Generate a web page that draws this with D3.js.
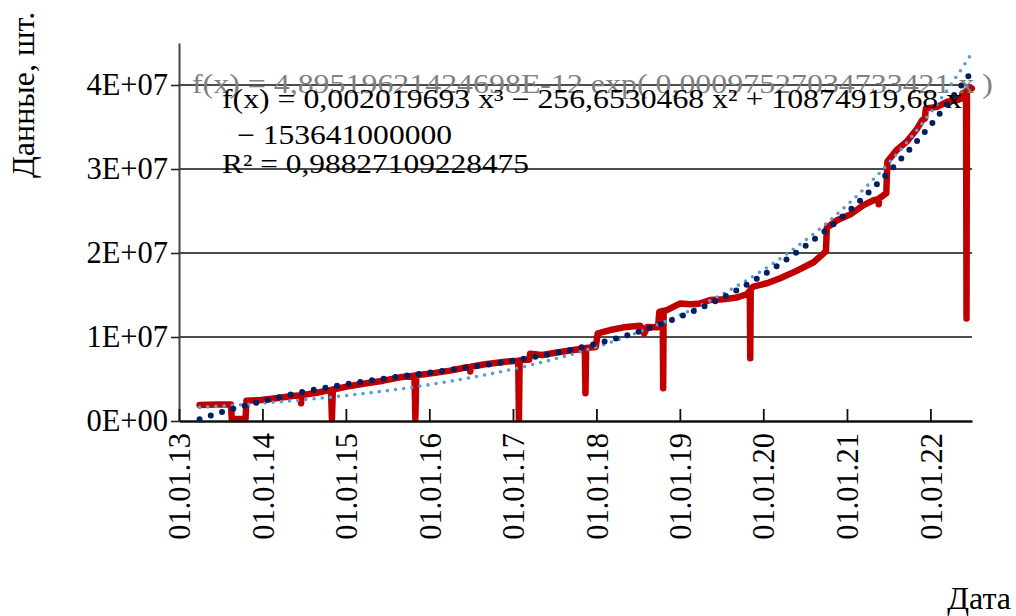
<!DOCTYPE html><meta charset="utf-8">
<html>
<head>
    <title>Данные по датам</title>
    <script src="https://cdn.jsdelivr.net/npm/d3@7"></script>
    <style>
        body { margin: 0; background: #fff; }
        text { font-family: "Liberation Serif", "Times New Roman", serif; }
    </style>
</head>
<body>
<svg id="viz"></svg>
<script>
    // series (dates as yyyy-mm-dd, values in pieces)
    var dataDates = [
        "2013-04-01", "2013-06-15", "2013-08-16", "2013-08-20", "2013-10-19", "2013-10-23", "2013-12-26",
        "2014-03-10", "2014-05-22", "2014-06-17", "2014-06-19", "2014-06-21", "2014-08-27", "2014-10-28",
        "2014-11-01", "2014-11-05", "2015-01-05", "2015-04-02", "2015-06-14", "2015-08-26", "2015-10-28",
        "2015-11-01", "2015-11-05", "2016-01-19", "2016-04-01", "2016-06-13", "2016-06-26", "2016-06-28",
        "2016-06-30", "2016-09-01", "2016-11-28", "2017-01-24", "2017-01-27", "2017-01-30", "2017-02-09",
        "2017-03-13", "2017-03-17", "2017-05-08", "2017-07-05", "2017-09-01", "2017-11-11", "2017-11-14",
        "2017-11-17", "2017-12-29", "2018-01-07", "2018-03-02", "2018-04-30", "2018-07-12", "2018-07-29",
        "2018-08-11", "2018-09-23", "2018-09-28", "2018-10-03", "2018-10-18", "2018-10-20", "2018-10-22",
        "2018-11-05", "2019-01-03", "2019-02-16", "2019-03-31", "2019-05-14", "2019-07-11", "2019-09-08",
        "2019-10-22", "2019-11-03", "2019-11-05", "2019-11-07", "2019-11-19", "2020-01-17", "2020-03-15",
        "2020-05-28", "2020-08-08", "2020-10-01", "2020-10-05", "2020-11-19", "2021-01-16", "2021-03-15",
        "2021-04-28", "2021-05-18", "2021-05-20", "2021-05-22", "2021-06-11", "2021-06-22", "2021-06-27",
        "2021-08-08", "2021-09-21", "2021-11-04", "2021-11-26", "2021-12-08", "2021-12-12", "2022-01-30",
        "2022-03-15", "2022-04-28", "2022-05-17", "2022-05-21", "2022-06-06", "2022-06-08", "2022-06-10",
        "2022-07-01"
    ];
    var dataValues = [
        1.90e6, 1.95e6, 1.95e6, 0.25e6, 0.25e6, 2.40e6, 2.50e6,
        2.75e6, 3.00e6, 3.05e6, 2.10e6, 3.08e6, 3.37e6, 3.70e6,
        0.25e6, 3.75e6, 4.10e6, 4.50e6, 4.80e6, 5.20e6, 5.40e6,
        0.25e6, 5.45e6, 5.70e6, 6.00e6, 6.40e6, 6.40e6, 5.90e6,
        6.45e6, 6.75e6, 7.06e6, 7.18e6, 0.25e6, 7.22e6, 7.26e6,
        7.30e6, 8.00e6, 7.86e6, 8.13e6, 8.37e6, 8.65e6, 3.30e6,
        8.68e6, 8.80e6, 10.44e6, 10.83e6, 11.15e6, 11.35e6, 10.40e6,
        11.20e6, 11.15e6, 11.20e6, 13.00e6, 13.10e6, 3.90e6, 13.10e6,
        13.20e6, 14.00e6, 13.90e6, 14.00e6, 14.40e6, 14.50e6, 14.70e6,
        15.10e6, 15.50e6, 7.46e6, 15.70e6, 16.00e6, 16.40e6, 17.00e6,
        17.90e6, 18.90e6, 20.20e6, 23.00e6, 23.90e6, 24.60e6, 25.70e6,
        26.30e6, 26.40e6, 25.80e6, 26.50e6, 26.90e6, 27.10e6, 30.90e6,
        32.30e6, 33.30e6, 34.80e6, 35.80e6, 36.00e6, 37.20e6, 37.40e6,
        38.00e6, 38.20e6, 38.40e6, 39.00e6, 39.20e6, 12.20e6, 39.30e6,
        39.60e6
    ];

    // polynomial trend (3rd order), read every half year
    var polyDates = [
        "2013-04-01", "2013-07-01", "2014-01-01", "2014-07-01", "2015-01-01", "2015-07-01", "2016-01-01",
        "2016-07-01", "2017-01-01", "2017-07-01", "2018-01-01", "2018-07-01", "2019-01-01", "2019-07-01",
        "2020-01-01", "2020-07-01", "2021-01-01", "2021-07-01", "2022-01-01", "2022-07-01"
    ];
    var polyValues = [
        0.20e6, 1.02e6, 2.35e6, 3.49e6, 4.37e6, 5.10e6, 5.76e6,
        6.43e6, 7.18e6, 8.07e6, 9.20e6, 10.60e6, 12.40e6, 14.60e6,
        17.40e6, 20.80e6, 24.80e6, 29.60e6, 35.20e6, 41.60e6
    ];

    // exponential trend
    var expDates = [
        "2013-04-01", "2013-10-01", "2014-04-01", "2014-10-01", "2015-04-01", "2015-10-01", "2016-04-01",
        "2016-10-01", "2017-04-01", "2017-10-01", "2018-04-01", "2018-10-01", "2019-04-01", "2019-10-01",
        "2020-04-01", "2020-10-01", "2021-04-01", "2021-10-01", "2022-04-01", "2022-07-01"
    ];
    var expValues = [
        1.62e6, 1.94e6, 2.32e6, 2.77e6, 3.31e6, 3.95e6, 4.73e6,
        5.65e6, 6.75e6, 8.06e6, 9.63e6, 11.52e6, 13.75e6, 16.44e6,
        19.66e6, 23.48e6, 28.05e6, 33.53e6, 40.05e6, 43.76e6
    ];

    var yTicks = [0, 1e7, 2e7, 3e7, 4e7];
    var yTickLabels = ["0E+00", "1E+07", "2E+07", "3E+07", "4E+07"];

    var expLabel = "f(x) = 4,89519621424698E-12 exp( 0,00097527034733421 x )";
    var polyLabel = ["f(x) = 0,002019693 x³ − 256,6530468 x² + 10874919,68 x", "− 153641000000", "R² = 0,98827109228475"];

    var width = 1016;
    var height = 616;
    var font = "'Liberation Serif', 'Times New Roman', serif";

    var parseDate = d3.timeParse("%Y-%m-%d");

    function pairs(dates, values) {
        return dates.map(function(d, i) { return {date: parseDate(d), value: values[i]}; });
    }

    var series = pairs(dataDates, dataValues);
    var polyTrend = pairs(polyDates, polyValues);
    var expTrend = pairs(expDates, expValues);

    var x = d3.scaleTime()
        .domain([parseDate("2013-01-01"), parseDate("2022-07-02")])
        .range([179, 972]);
    var y = d3.scaleLinear().domain([0, 4.5e7]).range([421, 43]);

    var svg = d3.select("#viz").attr("width", width).attr("height", height)
        .style("font-family", font);

    // gridlines
    svg.append("g").selectAll("line")
        .data(yTicks.slice(1))
        .enter().append("line")
        .attr("x1", x.range()[0]).attr("x2", x.range()[1])
        .attr("y1", function(d) { return y(d); })
        .attr("y2", function(d) { return y(d); })
        .attr("stroke", "#111")
        .attr("stroke-width", 1.6);

    // y axis
    var yAxis = svg.append("g")
        .attr("transform", "translate(" + x.range()[0] + ",0)")
        .call(d3.axisLeft(y).tickValues(yTicks)
            .tickFormat(function(d, i) { return yTickLabels[i]; })
            .tickSizeInner(8).tickSizeOuter(0).tickPadding(3));
    yAxis.attr("font-family", font).attr("font-size", 30.5);
    yAxis.select(".domain").attr("stroke", "#444").attr("stroke-width", 2);
    yAxis.selectAll(".tick line").attr("stroke", "#222").attr("stroke-width", 1.6);
    yAxis.selectAll("text").attr("fill", "#000");

    // line
    var line = d3.line()
        .x(function(d) { return x(d.date); })
        .y(function(d) { return y(d.value); });

    svg.append("path")
        .datum(series)
        .attr("d", line)
        .attr("fill", "none")
        .attr("stroke", "#c00000")
        .attr("stroke-width", 6.5)
        .attr("stroke-linejoin", "round")
        .attr("stroke-linecap", "round");

    // x axis (drawn after the series, ticks point inside)
    var xAxis = svg.append("g")
        .attr("transform", "translate(0," + y(0) + ")")
        .call(d3.axisBottom(x).ticks(d3.timeYear.every(1))
            .tickFormat(d3.timeFormat("%d.%m.%y"))
            .tickSizeInner(-12).tickSizeOuter(0));
    xAxis.attr("font-family", font).attr("font-size", 30.5);
    xAxis.select(".domain").attr("stroke", "#111").attr("stroke-width", 2.4);
    xAxis.selectAll(".tick line").attr("stroke", "#111").attr("stroke-width", 1.8);
    xAxis.selectAll("text")
        .attr("fill", "#000")
        .attr("transform", "rotate(-90)")
        .attr("text-anchor", "end")
        .attr("x", -12).attr("y", 0)
        .attr("dy", "0.35em");

    // trendlines
    var smooth = d3.line()
        .x(function(d) { return x(d.date); })
        .y(function(d) { return y(d.value); })
        .curve(d3.curveMonotoneX);

    svg.append("path")
        .datum(expTrend)
        .attr("d", smooth)
        .attr("fill", "none")
        .attr("stroke", "#5b9bd5")
        .attr("stroke-width", 3.6)
        .attr("stroke-linecap", "round")
        .attr("stroke-dasharray", "0 8.2");

    svg.append("path")
        .datum(polyTrend)
        .attr("d", smooth)
        .attr("fill", "none")
        .attr("stroke", "#002060")
        .attr("stroke-width", 6)
        .attr("stroke-linecap", "round")
        .attr("stroke-dasharray", "0 11.8");

    // trendline equations
    svg.append("text")
        .attr("x", 192).attr("y", 93)
        .attr("font-family", font)
        .attr("font-size", 27)
        .attr("fill", "#808080")
        .attr("textLength", 801)
        .attr("lengthAdjust", "spacingAndGlyphs")
        .text(expLabel);

    var eqX = [222, 237, 222];
    var eqY = [108, 144, 173];
    var eqW = [740, 215, 307];
    svg.append("g").selectAll("text")
        .data(polyLabel)
        .enter().append("text")
        .attr("x", function(d, i) { return eqX[i]; })
        .attr("y", function(d, i) { return eqY[i]; })
        .attr("font-family", font)
        .attr("font-size", 27)
        .attr("fill", "#000")
        .attr("textLength", function(d, i) { return eqW[i]; })
        .attr("lengthAdjust", "spacingAndGlyphs")
        .text(function(d) { return d; });

    // axis titles
    svg.append("text")
        .attr("transform", "translate(34,178) rotate(-90)")
        .attr("font-family", font)
        .attr("font-size", 32)
        .attr("fill", "#000")
        .text("Данные, шт.");

    svg.append("text")
        .attr("x", 1011).attr("y", 609)
        .attr("text-anchor", "end")
        .attr("font-family", font)
        .attr("font-size", 32)
        .attr("fill", "#000")
        .text("Дата");
</script>
</body>
</html>
